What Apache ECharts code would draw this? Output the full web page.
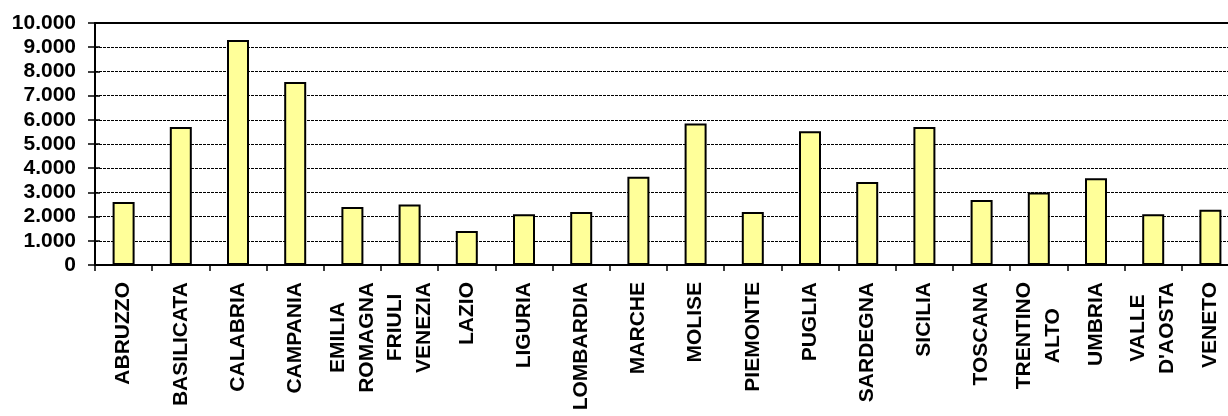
<!DOCTYPE html>
<html>
<head>
<meta charset="utf-8">
<script src="https://cdn.jsdelivr.net/npm/echarts@6/dist/echarts.min.js"></script>
<style>
  html, body { margin: 0; padding: 0; background: #fff; overflow: hidden; }
  /* the plot runs slightly past the right edge of the page */
  #chart { width: 1240px; height: 416px; }
</style>
</head>
<body>
<div id="chart"></div>
<script>
// Regions (two-word names are split over two lines)
const regions = [
  ['ABRUZZO'], ['BASILICATA'], ['CALABRIA'], ['CAMPANIA'], ['EMILIA', 'ROMAGNA'],
  ['FRIULI', 'VENEZIA'], ['LAZIO'], ['LIGURIA'], ['LOMBARDIA'], ['MARCHE'],
  ['MOLISE'], ['PIEMONTE'], ['PUGLIA'], ['SARDEGNA'], ['SICILIA'],
  ['TOSCANA'], ['TRENTINO', 'ALTO'], ['UMBRIA'], ['VALLE', "D'AOSTA"], ['VENETO']
];

// Value per region
const values = [
  2600, 5700, 9300, 7560, 2400,
  2500, 1400, 2100, 2190, 3650,
  5850, 2190, 5530, 3430, 5700,
  2690, 3000, 3580, 2100, 2280
];

// Value axis ticks
const yTicks = [0, 1000, 2000, 3000, 4000, 5000, 6000, 7000, 8000, 9000, 10000];
const yTickLabels = ['0', '1.000', '2.000', '3.000', '4.000', '5.000', '6.000', '7.000', '8.000', '9.000', '10.000'];

const FONT = "'Liberation Sans', Arial, sans-serif";
const categories = regions.map(r => r.join(' '));

const chart = echarts.init(document.getElementById('chart'), null, { renderer: 'canvas' });

chart.setOption({
  animation: false,
  backgroundColor: '#ffffff',
  grid: { left: 95, right: 1, top: 23, bottom: 151 },
  xAxis: [
    {
      type: 'category',
      data: categories,
      position: 'bottom',
      axisLine: { show: true, onZero: false, lineStyle: { color: '#000', width: 2 } },
      axisTick: { show: true, length: 6, lineStyle: { color: '#000', width: 1.5 } },
      axisLabel: {
        interval: 0,
        rotate: 90,
        margin: 17,
        color: '#000',
        fontFamily: FONT,
        fontWeight: 'bold',
        fontSize: 21,
        lineHeight: 29,
        formatter: function (value, idx) {
          const parts = regions[idx];
          if (parts.length === 1) return parts[0];
          return parts.map(p => '{c|' + p + '}').join('\n');
        },
        rich: {
          c: {
            align: 'center',
            color: '#000',
            fontFamily: FONT,
            fontWeight: 'bold',
            fontSize: 21,
            lineHeight: 29
          }
        }
      },
      splitLine: { show: false }
    },
    {
      // frame line along the top of the plot
      type: 'category',
      data: categories,
      position: 'top',
      axisLine: { show: true, onZero: false, lineStyle: { color: '#000', width: 2 } },
      axisTick: { show: false },
      axisLabel: { show: false },
      splitLine: { show: false }
    }
  ],
  yAxis: [
    {
      type: 'value',
      position: 'left',
      min: 0,
      max: 10000,
      interval: 1000,
      axisLine: { show: true, onZero: false, lineStyle: { color: '#000', width: 2 } },
      axisTick: { show: true, length: 7, lineStyle: { color: '#000', width: 1.5 } },
      axisLabel: {
        margin: 19,
        color: '#000',
        fontFamily: FONT,
        fontWeight: 'bold',
        fontSize: 21,
        formatter: function (v) {
          const i = yTicks.indexOf(v);
          return i >= 0 ? yTickLabels[i] : '';
        }
      },
      splitLine: {
        show: true,
        lineStyle: { color: '#000', width: 1, type: [3, 1] }
      }
    },
    {
      // inner half of the crossing tick marks
      type: 'value',
      position: 'left',
      min: 0,
      max: 10000,
      interval: 1000,
      axisLine: { show: false },
      axisTick: { show: true, inside: true, length: 5, lineStyle: { color: '#000', width: 1.5 } },
      axisLabel: { show: false },
      splitLine: { show: false }
    }
  ],
  series: [
    {
      type: 'bar',
      data: values,
      xAxisIndex: 0,
      yAxisIndex: 0,
      barWidth: 22,
      itemStyle: {
        color: '#FFFF99',
        borderColor: '#000',
        borderWidth: 2
      },
      z: 3
    }
  ]
});
</script>
</body>
</html>
